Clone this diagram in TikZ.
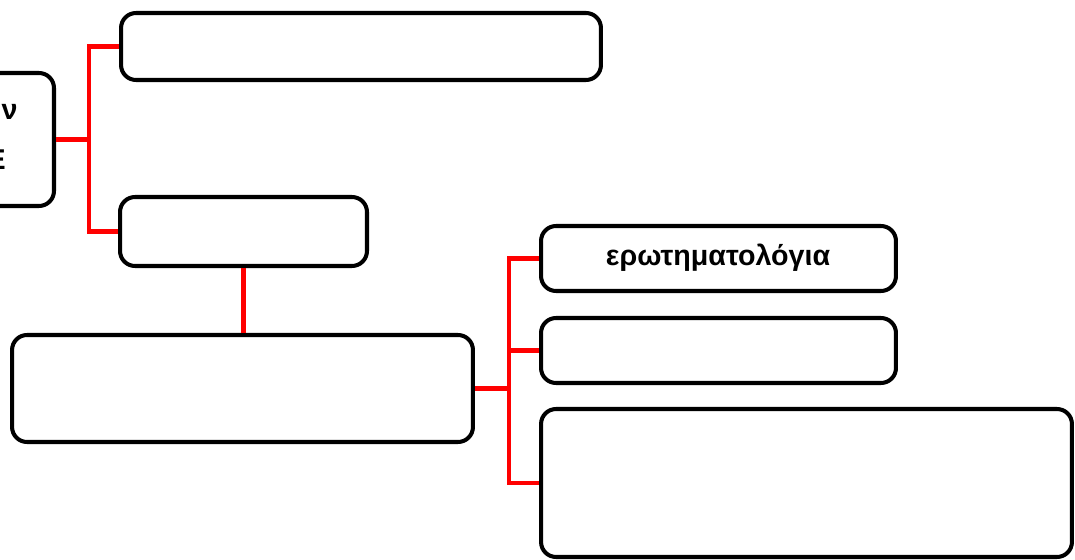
\documentclass[tikz,border=0pt]{standalone}
\usepackage{fontspec}
\setmainfont{Liberation Sans}
\begin{document}
\begin{tikzpicture}[x=0.02cm,y=-0.02cm,
  box/.style={draw=black,line width=2.3pt,rounded corners=0.3cm,shape=rectangle,inner sep=0pt,fill=white},
  link/.style={draw=red,line width=2.3pt},
  lbl/.style={font=\bfseries\fontsize{16.3}{19}\selectfont,inner sep=0pt}]
\useasboundingbox (0,0) rectangle (1075,560);
\clip (0,0) rectangle (1075,560);
\fill[white] (0,0) rectangle (1075,560);
% boxes
\node[box,minimum width=4.08cm,minimum height=2.66cm] (L) at (-48,139.5) {};
\node[box,minimum width=9.6cm,minimum height=1.34cm] (A) at (361,46.5) {};
\node[box,minimum width=4.94cm,minimum height=1.38cm] (B) at (243.5,231.5) {};
\node[box,minimum width=9.22cm,minimum height=2.14cm] (C) at (242.5,388.5) {};
\node[box,minimum width=7.1cm,minimum height=1.3cm] (D) at (718.5,258.5) {};
\node[box,minimum width=7.1cm,minimum height=1.3cm] (E) at (718.5,350.5) {};
\node[box,minimum width=10.62cm,minimum height=2.96cm] (F) at (806.5,483) {};
% texts
\node[lbl] (t1) at (718,258) {ερωτηματολόγια};
\node[lbl,anchor=east] (t2) at (18,112) {ν};
\node[lbl,anchor=east] (t3) at (6,160) {Ε};
% connectors
\coordinate (j1) at (89,139.5);
\coordinate (j2) at (509,388.5);
\draw[link] (L.east) -- (j1);
\draw[link] (A.west) -| (j1) |- (B.west);
\draw[link] (B.south) -- (B.south |- C.north);
\draw[link] (C.east) -- (j2);
\draw[link] (D.west) -| (j2) |- (F.west);
\draw[link] (E.west) -- (E.west -| j2);
\end{tikzpicture}
\end{document}
